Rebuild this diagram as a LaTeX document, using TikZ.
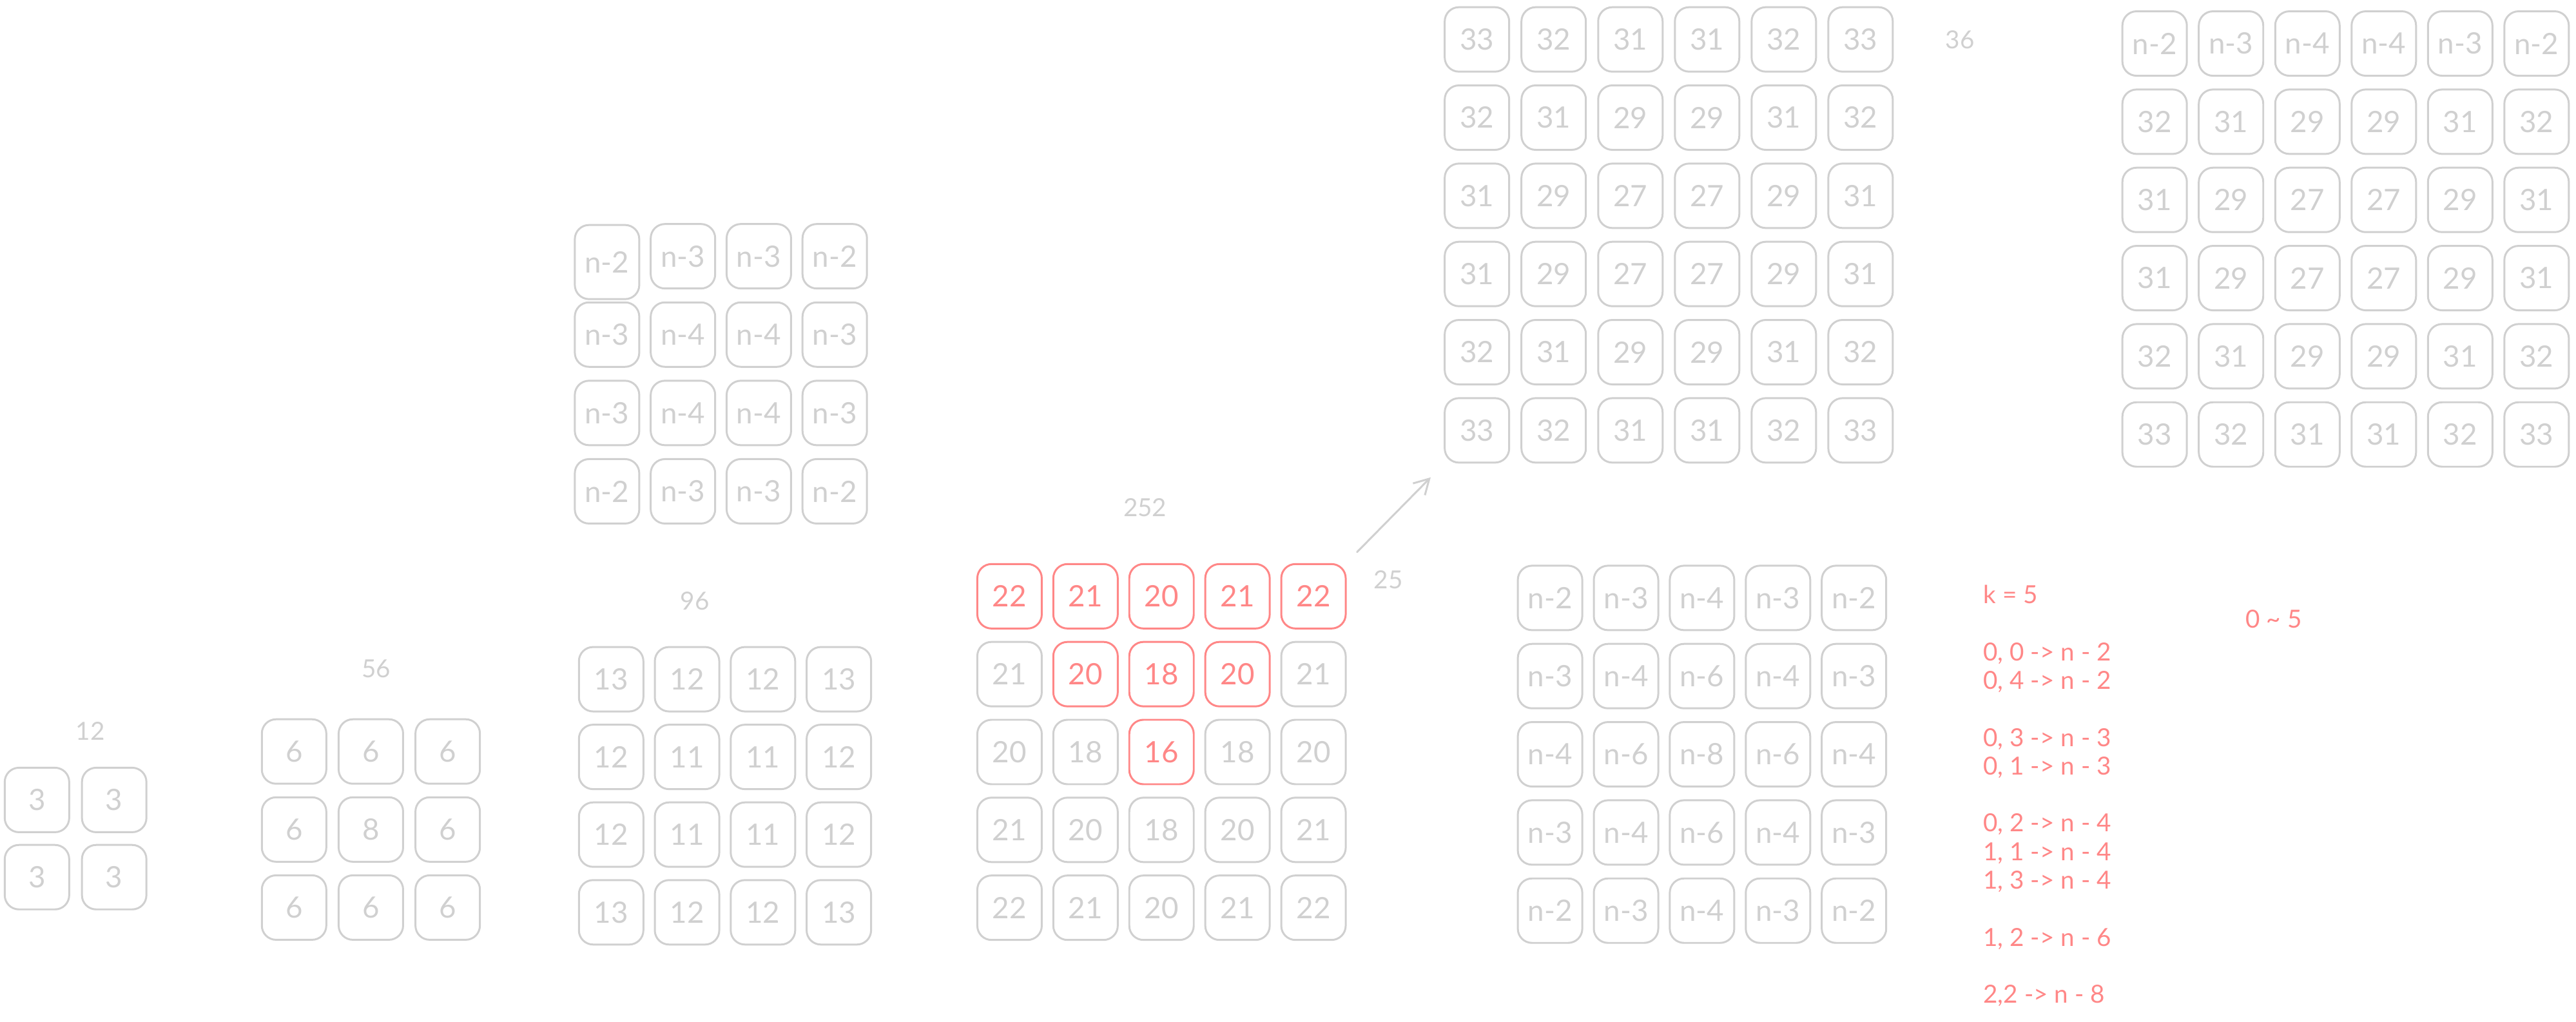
\documentclass[tikz,border=0pt]{standalone}
\usepackage{fontspec}
\setmainfont{Lato}
\usepackage{tikz}
\usetikzlibrary{arrows.meta}

\definecolor{lgray}{RGB}{208,208,208}
\definecolor{lred}{RGB}{255,135,135}

\begin{document}
\begin{tikzpicture}[x=0.2549mm, y=-0.2549mm,
    cell/.style={draw=lgray, text=lgray, line width=0.85pt, rounded corners=2.2mm, minimum width=10mm, minimum height=10mm, inner sep=0pt, font=\fontsize{13}{15}\selectfont},
    hot/.style={cell, draw=lred, text=lred},
    tall/.style={cell, minimum height=11.5mm, yshift=-0.9mm},
    lbl/.style={text=lgray, inner sep=0pt, font=\fontsize{11}{13}\selectfont},
    note/.style={text=lred, inner sep=0pt, align=left, font=\fontsize{11}{12.6}\selectfont},
    link/.style={draw=lgray, line width=0.85pt, line cap=round, -{Straight Barb[length=2.3mm, width=2.6mm]}, shorten <=2.4mm, shorten >=3mm}]
\useasboundingbox (0,0) rectangle (1568,622);

% 2x2
\foreach \row [count=\r] in {{3,3},{3,3}}
  \foreach \v [count=\c] in \row
    \node[cell] (a\r\c) at ({-24.5+47*\c},{440+47*\r}) {\v};
\node[lbl] (l12) at (55,445) {12};

% 3x3
\foreach \row [count=\r] in {{6,6,6},{6,8,6},{6,6,6}}
  \foreach \v [count=\c] in \row
    \node[cell] (b\r\c) at ({132.25+46.75*\c},{410+47.5*\r}) {\v};
\node[lbl] (l56) at (229,407) {56};

% 4x4
\foreach \row [count=\r] in {{13,12,12,13},{12,11,11,12},{12,11,11,12},{13,12,12,13}}
  \foreach \v [count=\c] in \row
    \node[cell] (c\r\c) at ({325.8+46.2*\c},{366.2+47.3*\r}) {\v};
\node[lbl] (l96) at (423,366) {96};

\foreach \row [count=\r] in {{n-2/tall,n-3/cell,n-3/cell,n-2/cell},{n-3/cell,n-4/cell,n-4/cell,n-3/cell},{n-3/cell,n-4/cell,n-4/cell,n-3/cell},{n-2/cell,n-3/cell,n-3/cell,n-2/cell}}
  \foreach \v/\s [count=\c] in \row
    \node[\s] (d\r\c) at ({323.3+46.2*\c},{108.3+47.7*\r}) {\v};

% 5x5
\foreach \row [count=\r] in {{22/hot,21/hot,20/hot,21/hot,22/hot},{21/cell,20/hot,18/hot,20/hot,21/cell},{20/cell,18/cell,16/hot,18/cell,20/cell},{21/cell,20/cell,18/cell,20/cell,21/cell},{22/cell,21/cell,20/cell,21/cell,22/cell}}
  \foreach \v/\s [count=\c] in \row
    \node[\s] (e\r\c) at ({568.25+46.25*\c},{315.6+47.4*\r}) {\v};
\node[lbl] (l252) at (697,309) {252};
\node[lbl] (l25) at (845,353) {25};

\foreach \row [count=\r] in {{n-2,n-3,n-4,n-3,n-2},{n-3,n-4,n-6,n-4,n-3},{n-4,n-6,n-8,n-6,n-4},{n-3,n-4,n-6,n-4,n-3},{n-2,n-3,n-4,n-3,n-2}}
  \foreach \v [count=\c] in \row
    \node[cell] (h\r\c) at ({897.25+46.25*\c},{316.4+47.6*\r}) {\v};

% 6x6
\foreach \row [count=\r] in {{33,32,31,31,32,33},{32,31,29,29,31,32},{31,29,27,27,29,31},{31,29,27,27,29,31},{32,31,29,29,31,32},{33,32,31,31,32,33}}
  \foreach \v [count=\c] in \row
    \node[cell] (f\r\c) at ({852.3+46.7*\c},{-23.6+47.6*\r}) {\v};
\node[lbl] (l36) at (1193,24) {36};

\foreach \row [count=\r] in {{n-2,n-3,n-4,n-4,n-3,n-2},{32,31,29,29,31,32},{31,29,27,27,29,31},{31,29,27,27,29,31},{32,31,29,29,31,32},{33,32,31,31,32,33}}
  \foreach \v [count=\c] in \row
    \node[cell] (g\r\c) at ({1265+46.5*\c},{-21.1+47.6*\r}) {\v};

\draw[link] (e15) -- (f61);

% k = 5
\node[note, anchor=north west] (rules) at (1207,356) {k = 5\\ \\0, 0 -> n - 2\\0, 4 -> n - 2\\ \\0, 3 -> n - 3\\0, 1 -> n - 3\\ \\0, 2 -> n - 4\\1, 1 -> n - 4\\1, 3 -> n - 4\\ \\1, 2 -> n - 6\\ \\2,2 -> n - 8};
\node[note] (range) at (1384,377) {0 \textasciitilde{} 5};
\end{tikzpicture}
\end{document}
